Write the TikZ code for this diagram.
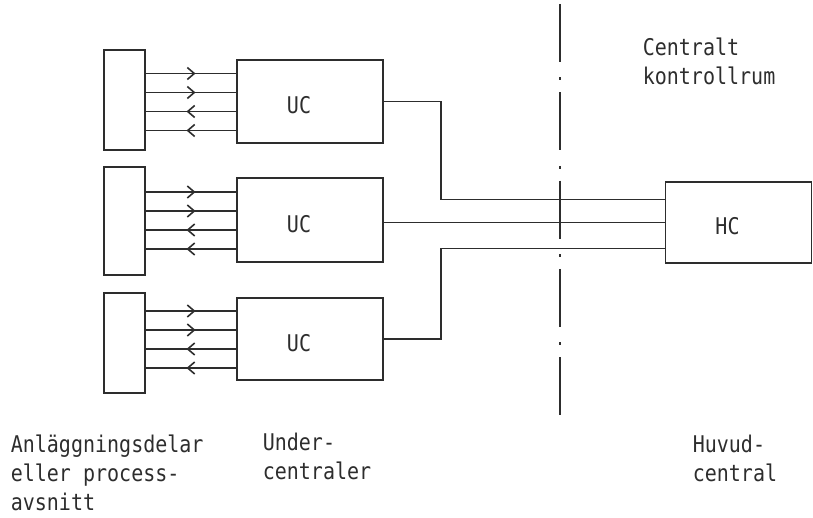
\documentclass[tikz,border=0pt]{standalone}
\usepackage{fontspec}
\setmonofont{DejaVu Sans Mono}[FakeStretch=0.87]
\usetikzlibrary{arrows.meta,decorations.markings}
\definecolor{inkgray}{RGB}{45,45,45}
\newcommand{\typetext}{\ttfamily\fontsize{23}{29}\selectfont}

\begin{document}
\begin{tikzpicture}[x=1pt, y=-1pt, line width=1.6pt, draw=inkgray, text=inkgray,
		plantbox/.style={draw, minimum width=41pt, inner sep=0pt},
		ucbox/.style={draw, minimum width=146pt, inner sep=0pt,
			label={[xshift=-11pt, yshift=-4pt, font=\typetext, text=inkgray]center:#1}},
		sig/.style={postaction={decorate}, decoration={markings,
			mark=at position 0.55 with {\arrow[inkgray]{Straight Barb[length=7pt, width=12pt]}}}},
		txt/.style={font=\typetext, align=left, anchor=north west, inner sep=0pt}]
	
	\useasboundingbox (0,0) rectangle (813,518);
	
	% PLANT SECTIONS AND SUB-CENTRALS
	\foreach \i/\yp/\hp/\yu/\hu in {1/100/100/101.5/83, 2/221/108/220/84, 3/343/100/339/82} {
		\node[plantbox, minimum height=\hp pt] (p\i) at (124.5,\yp) {};
		\node[ucbox=UC, minimum height=\hu pt] (u\i) at (310,\yu) {};
	}
	
	% SIGNAL LINES
	\foreach \i in {1,2,3} {
		\foreach \s in {28,9,-10,-29}
			\coordinate (s\i\s) at ([yshift=\s pt]u\i.west);
		\foreach \s in {28,9}
			\draw[sig] (p\i.east |- s\i\s) -- (s\i\s);
		\foreach \s in {-10,-29}
			\draw[sig] (s\i\s) -- (p\i.east |- s\i\s);
	}
	
	% MAIN CENTRAL
	\node[ucbox=HC, minimum height=81pt] (hc) at (738.5,222.5) {};
	
	% TRUNK LINES
	\coordinate (trunk) at (441,0);
	\coordinate (hcin1) at ([yshift=23pt]hc.west);
	\coordinate (hcin3) at ([yshift=-26pt]hc.west);
	\draw (u1.east) -| (trunk |- hcin1) -- (hcin1);
	\draw (hc.west) -- (hc.west -| u2.east);
	\draw (u3.east) -| (trunk |- hcin3) -- (hcin3);
	
	% BOUNDARY OF CONTROL ROOM
	\coordinate (cuttop) at (560,4);
	\coordinate (cutbot) at (560,416);
	\draw[dash pattern=on 58pt off 15.5pt on 3pt off 11.8pt] (cuttop) -- (cutbot);
	
	% LABELS
	\node[txt] (roomlbl) at (642,37.5) {Centralt\\kontrollrum};
	\node[txt] (plantlbl) at (10,434.5) {Anläggningsdelar\\eller process-\\avsnitt};
	\node[txt] (uclbl) at (262,432.5) {Under-\\centraler};
	\node[txt] (hclbl) at (692,434.5) {Huvud-\\central};
	
\end{tikzpicture}
\end{document}
